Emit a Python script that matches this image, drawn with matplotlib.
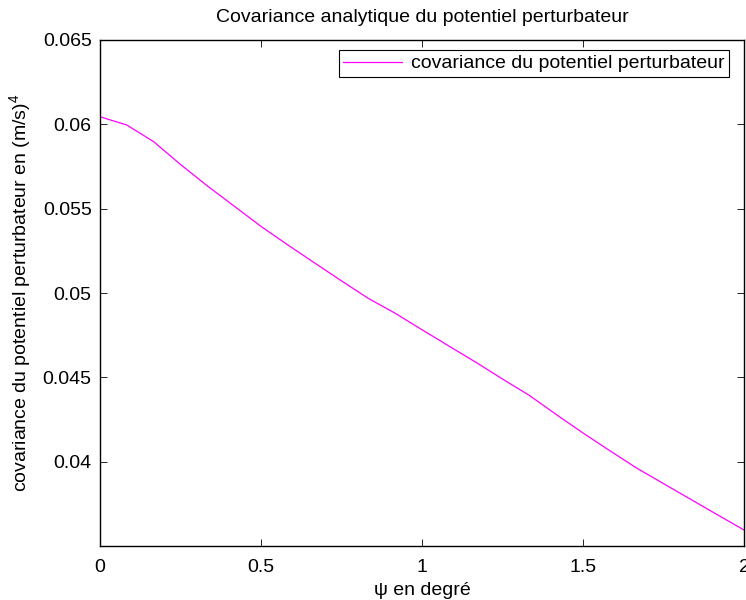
import matplotlib
matplotlib.use("Agg")
import matplotlib.pyplot as plt

plt.rcParams['font.family'] = ['Liberation Sans', 'DejaVu Sans']
plt.rcParams['mathtext.fontset'] = 'custom'
plt.rcParams['mathtext.rm'] = 'Liberation Sans'

# psi (degrees) and covariance values
psi = [0.0, 0.0833, 0.1667, 0.25, 0.3333, 0.4167, 0.5, 0.5833, 0.6667,
       0.75, 0.8333, 0.9167, 1.0, 1.0833, 1.1667, 1.25, 1.3333, 1.4167,
       1.5, 1.5833, 1.6667, 1.75, 1.8333, 1.9167, 2.0]
cov = [0.06045, 0.05996, 0.05897, 0.05762, 0.05635, 0.05515, 0.05395,
       0.05285, 0.05178, 0.05072, 0.04968, 0.04880, 0.04782, 0.04686,
       0.04590, 0.04490, 0.04393, 0.04280, 0.04170, 0.04065, 0.03962,
       0.03870, 0.03778, 0.03686, 0.03595]

xticks = [0, 0.5, 1, 1.5, 2]
xticklabels = ['0', '0.5', '1', '1.5', '2']
yticks = [0.04, 0.045, 0.05, 0.055, 0.06, 0.065]
yticklabels = ['0.04', '0.045', '0.05', '0.055', '0.06', '0.065']

fs = 14

fig = plt.figure(figsize=(7.46, 6.0), dpi=100)
ax = fig.add_axes([100 / 746, 54 / 600, 644 / 746, 506 / 600])

ax.plot(psi, cov, color='#ff00ff', lw=0.9,
        label='covariance du potentiel perturbateur')

ax.set_xlim(0, 2)
ax.set_ylim(0.035, 0.065)
ax.set_xticks(xticks)
ax.set_xticklabels(xticklabels)
ax.set_yticks(yticks)
ax.set_yticklabels(yticklabels)
ax.tick_params(direction='in', top=True, right=True, length=5, width=0.6,
               labelsize=fs)
ax.tick_params(axis='x', pad=9)
ax.tick_params(axis='y', pad=6)
for s in ax.spines.values():
    s.set_linewidth(1.0)

ax.set_title('Covariance analytique du potentiel perturbateur', fontsize=fs, pad=13)
ax.set_xlabel('\u03c8 en degr\u00e9', fontsize=fs, labelpad=5)
ax.set_ylabel('covariance du potentiel perturbateur en (m/s)$^4$', fontsize=fs,
              labelpad=6)

leg = ax.legend(loc='upper right', bbox_to_anchor=(629 / 644, 496 / 506),
                borderaxespad=0, fontsize=fs, frameon=True, fancybox=False,
                handlelength=3.0, handletextpad=0.45, borderpad=0.25,
                edgecolor='black', framealpha=1)
leg.get_frame().set_linewidth(0.8)

fig.savefig('out.png', dpi=100)
